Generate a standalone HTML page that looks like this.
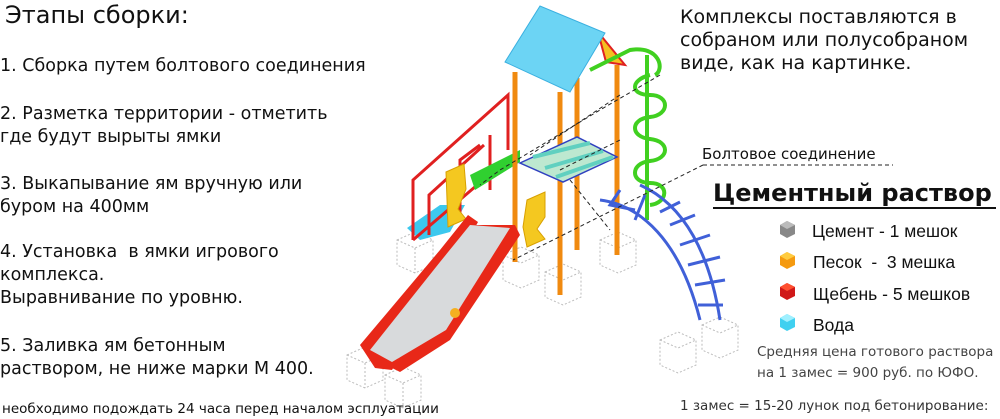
<!DOCTYPE html>
<html><head><meta charset="utf-8"><style>
body{margin:0;width:1000px;height:419px;background:#fff;overflow:hidden;position:relative;font-family:"DejaVu Sans","Liberation Sans",sans-serif;color:#111}
.t{position:absolute;white-space:nowrap;font-size:17.5px;line-height:23px}
.r{position:absolute;white-space:nowrap;font-family:"Liberation Sans",sans-serif;font-size:17.5px}
svg{position:absolute;left:0;top:0}
</style></head><body>
<svg width="1000" height="419" viewBox="0 0 1000 419">
<g fill="none" stroke="#bbb" stroke-dasharray="2,2" stroke-width="1">
<path d="M347 355 l18 -8 l18 8 v25 l-18 8 l-18 -8z M347 355 l18 8 l18 -8 M365 363 v25"/>
<path d="M385 375 l18 -8 l18 8 v25 l-18 8 l-18 -8z M385 375 l18 8 l18 -8 M403 383 v25"/>
<path d="M397 240 l18 -8 l18 8 v25 l-18 8 l-18 -8z M397 240 l18 8 l18 -8 M415 248 v25"/>
<path d="M503 255 l18 -8 l18 8 v25 l-18 8 l-18 -8z M503 255 l18 8 l18 -8"/>
<path d="M545 272 l18 -8 l18 8 v25 l-18 8 l-18 -8z M545 272 l18 8 l18 -8"/>
<path d="M600 240 l18 -8 l18 8 v25 l-18 8 l-18 -8z M600 240 l18 8 l18 -8"/>
<path d="M660 340 l18 -8 l18 8 v25 l-18 8 l-18 -8z M660 340 l18 8 l18 -8"/>
<path d="M702 325 l18 -8 l18 8 v25 l-18 8 l-18 -8z M702 325 l18 8 l18 -8"/>
</g>
<polygon points="407,228 440,205 465,205 450,232 420,240" fill="#3cc8ee"/>
<g stroke="#e02020" stroke-width="3" fill="none">
<path d="M413 240 v-60 l95 -85 v55"/>
<path d="M460 215 v-55 l20 -15 M490 190 v-55 M429 235 v-40 l55 -50 M413 240 l70 -60"/>
</g>
<polygon points="470,175 520,150 520,162 475,190" fill="#30d030"/>
<g stroke="#f08a10" stroke-width="5">
<line x1="515" y1="72" x2="515" y2="262"/><line x1="560" y1="92" x2="560" y2="295"/>
<line x1="577" y1="78" x2="577" y2="250"/><line x1="617" y1="65" x2="617" y2="255"/>
</g>
<polygon points="520,163 577,137 617,157 563,182" fill="#bde8d0" stroke="#3040c0" stroke-width="1.5"/>
<g stroke="#60d0c0" stroke-width="4"><line x1="533" y1="157" x2="590" y2="143"/><line x1="545" y1="168" x2="603" y2="151"/><line x1="556" y1="177" x2="613" y2="157"/></g>
<polygon points="598,32 625,65 606,62" fill="#f4c020" stroke="#e02020" stroke-width="2"/>
<polygon points="505,62 540,6 605,33 570,92" fill="#6cd4f4" stroke="#3ab0e0"/>
<g stroke="#40d020" stroke-width="4" fill="none">
<path d="M590 70 l40 -20 c30 -5 35 20 25 25 M647 55 v165"/>
<path d="M650 75 c-20 5 -20 20 0 20 c20 0 20 20 0 22 c-20 2 -20 20 0 22 c20 2 20 20 0 22 c-20 2 -20 22 0 22 c20 0 18 20 0 22"/>
</g>
<path d="M446 172 l18 -8 l2 25 l-8 20 l8 10 l-18 8 z" fill="#f4c820" stroke="#d8a000"/>
<path d="M527 200 l18 -8 v25 l-8 12 l8 10 l-18 8 l-4 -20 z" fill="#f4c820" stroke="#d8a000"/>
<polygon points="360,345 440,250 468,215 478,222 460,255 392,370 375,368" fill="#e82818"/>
<polygon points="470,225 515,225 520,235 450,340 400,372 392,368 440,300" fill="#e82818"/>
<polygon points="370,350 440,262 470,225 510,228 446,330 392,362" fill="#d8dadc"/>
<circle cx="455" cy="313" r="5" fill="#f4b020"/>
<g stroke="#4060d8" stroke-width="3" fill="none">
<path d="M640 185 c45 20 70 70 80 135"/><path d="M600 200 c40 5 80 40 100 120"/>
<path d="M620 190 l-10 15 l25 5 M645 195 l-10 25 M660 212 l20 -10 M670 225 l25 -10 M680 245 l30 -10 M688 265 l32 -8 M695 285 l30 -5 M698 305 l25 0"/>
</g>
<g stroke="#222" stroke-width="1" stroke-dasharray="4,3" fill="none">
<path d="M703 165 h190"/><path d="M703 165 l-80 40 l-60 30 l-50 25"/>
<path d="M660 75 l-60 35 l-100 60 l-20 15"/>
<path d="M620 95 l-90 60 M560 170 l60 -30"/>
<path d="M570 180 l40 50"/>
</g>
<rect x="713" y="207" width="283" height="2" fill="#111"/>
<g>
<polygon points="780,225 787,221 795,225 795,234 787,238 780,234" fill="#888"/><polygon points="780,225 787,221 795,225 787,229" fill="#bbb"/>
<polygon points="780,256 787,252 795,256 795,265 787,269 780,265" fill="#f59a10"/><polygon points="780,256 787,252 795,256 787,260" fill="#ffcc40"/>
<polygon points="780,287 787,283 795,287 795,296 787,300 780,296" fill="#d01818"/><polygon points="780,287 787,283 795,287 787,291" fill="#ff5030"/>
<polygon points="780,318 787,314 795,318 795,327 787,331 780,327" fill="#40d0f0"/><polygon points="780,318 787,314 795,318 787,322" fill="#a0f0ff"/>
</g>
</svg>
<div class="t" style="left:5px;top:0px;font-size:24px;line-height:30px">Этапы сборки:</div>
<div class="t" style="left:0;top:55px">1. Сборка путем болтового соединения</div>
<div class="t" style="left:0;top:103px">2. Разметка территории - отметить<br>где будут вырыты ямки</div>
<div class="t" style="left:0;top:173px">3. Выкапывание ям вручную или<br>буром на 400мм</div>
<div class="t" style="left:0;top:241px">4. Установка&nbsp; в ямки игрового<br>комплекса.<br>Выравнивание по уровню.</div>
<div class="t" style="left:0;top:335px">5. Заливка ям бетонным<br>раствором, не ниже марки М 400.</div>
<div class="t" style="left:2px;top:401px;font-size:13.5px;line-height:16px">необходимо подождать 24 часа перед началом эсплуатации</div>
<div class="t" style="left:680px;top:6px;font-size:19px;line-height:23px">Комплексы поставляются в<br>собраном или полусобраном<br>виде, как на картинке.</div>
<div class="t" style="left:702px;top:143px;font-size:15px">Болтовое соединение</div>
<div class="t" style="left:713px;top:178px;font-size:24px;font-weight:bold;line-height:30px">Цементный раствор</div>
<div class="r" style="left:812px;top:221px">Цемент - 1 мешок</div>
<div class="r" style="left:813px;top:252px">Песок&nbsp; -&nbsp; 3 мешка</div>
<div class="r" style="left:813px;top:284px">Щебень - 5 мешков</div>
<div class="r" style="left:813px;top:315px">Вода</div>
<div class="t" style="left:757px;top:342px;font-size:13.5px;line-height:21px;color:#444">Средняя цена готового раствора<br>на 1 замес = 900 руб. по ЮФО.</div>
<div class="t" style="left:680px;top:395px;font-size:13.5px;color:#333">1 замес = 15-20 лунок под бетонирование:</div>
</body></html>
